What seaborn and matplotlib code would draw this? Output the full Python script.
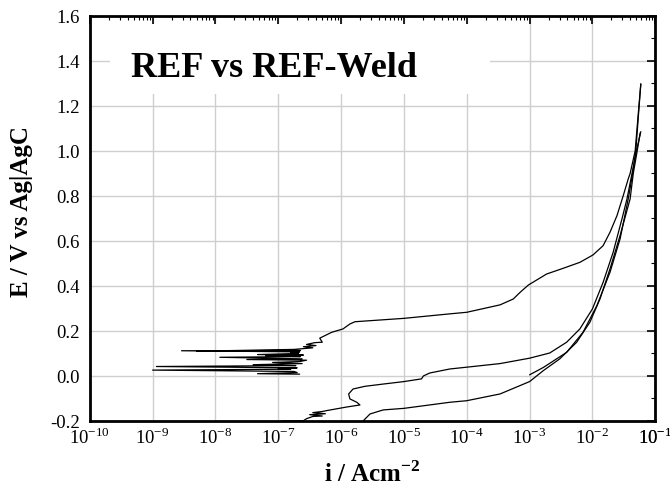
import numpy as np
import pandas as pd
import seaborn as sns
import matplotlib.pyplot as plt
from matplotlib.ticker import MultipleLocator, LogLocator, FixedLocator, FixedFormatter, NullFormatter
from matplotlib.patches import Rectangle

# log10(i / A cm^-2) and E (V vs Ag|AgCl)
# upper curve, forward scan (noisy start, passive plateau ~0.25 V, up to vertex)
a_fwd_logi = [-6.66, -7.33, -6.70, -6.75, -9.00, -6.80, -7.00, -6.70, -8.94, -6.72,
              -7.40, -6.62, -7.09, -6.66, -6.55, -7.50, -6.62, -7.93, -6.65, -7.20,
              -6.60, -7.33, -6.68, -6.80, -6.66, -8.54, -6.65, -8.30, -6.75, -6.45, -6.60,
              -6.40, -6.55, -6.42, -6.30, -6.34, -6.15, -5.97, -5.86, -5.78, -5.00,
              -4.27, -4.00, -3.47, -3.26, -3.15, -3.02, -2.73, -2.46, -2.20, -1.99,
              -1.83, -1.72, -1.61, -1.51, -1.43, -1.40, -1.32, -1.29, -1.26, -1.23]
a_fwd_E = [0.008, 0.010, 0.015, 0.020, 0.026, 0.030, 0.033, 0.036, 0.042, 0.046,
           0.050, 0.055, 0.060, 0.064, 0.070, 0.073, 0.076, 0.083, 0.086, 0.090,
           0.093, 0.095, 0.100, 0.104, 0.107, 0.112, 0.113, 0.110, 0.118, 0.125, 0.130,
           0.135, 0.140, 0.148, 0.150, 0.168, 0.194, 0.209, 0.231, 0.241, 0.256,
           0.276, 0.283, 0.316, 0.342, 0.372, 0.404, 0.453, 0.479, 0.505, 0.538,
           0.579, 0.639, 0.712, 0.801, 0.876, 0.900, 1.000, 1.100, 1.200, 1.298]

# upper curve, reverse scan
a_rev_logi = [-1.23, -1.27, -1.31, -1.36, -1.43, -1.56, -1.72, -1.93, -2.15, -2.41, -2.78, -3.00]
a_rev_E = [1.298, 1.150, 1.000, 0.900, 0.787, 0.609, 0.461, 0.312, 0.194, 0.105, 0.038, 0.005]

# lower curve, forward scan
b_fwd_logi = [-6.95, -6.60, -6.55, -6.45, -6.30, -6.50, -6.25, -6.45, -6.30, -6.23,
              -5.91, -5.70, -5.75, -5.86, -5.88, -5.81, -5.62, -5.33, -5.00, -4.72,
              -4.69, -4.59, -4.27, -4.00, -3.47, -3.00, -2.68, -2.41, -2.20, -2.00,
              -1.83, -1.67, -1.53, -1.45, -1.37, -1.30, -1.23]
b_fwd_E = [-0.200, -0.199, -0.190, -0.180, -0.178, -0.172, -0.168, -0.163, -0.158, -0.154,
           -0.138, -0.129, -0.117, -0.102, -0.080, -0.058, -0.046, -0.036, -0.025, -0.013,
           0.000, 0.013, 0.031, 0.039, 0.055, 0.079, 0.102, 0.150, 0.209, 0.298,
           0.416, 0.550, 0.698, 0.787, 0.900, 1.000, 1.086]

# lower curve, reverse scan
b_rev_logi = [-1.24, -1.30, -1.35, -1.40, -1.56, -1.72, -1.88, -2.04, -2.25, -2.52,
              -2.78, -3.00, -3.47, -4.00, -4.27, -5.00, -5.33, -5.54, -5.65]
b_rev_E = [1.080, 0.980, 0.900, 0.787, 0.624, 0.476, 0.342, 0.239, 0.150, 0.076,
           0.024, -0.025, -0.080, -0.110, -0.117, -0.144, -0.151, -0.169, -0.200]

decades = list(range(-10, 0))

sns.set_style("white")
plt.rcParams['font.family'] = ['Liberation Serif', 'DejaVu Serif']
plt.rcParams['mathtext.fontset'] = 'custom'
plt.rcParams['mathtext.rm'] = 'Liberation Serif'
plt.rcParams['mathtext.bf'] = 'Liberation Serif:bold'
plt.rcParams['axes.unicode_minus'] = False
for k in ['text.color', 'axes.labelcolor', 'xtick.color', 'ytick.color']:
    plt.rcParams[k] = 'black'

fig = plt.figure(figsize=(6.7, 4.85), dpi=100)
ax = fig.add_axes([0.134, 0.130, 0.844, 0.835])

for logi, E in [(a_fwd_logi, a_fwd_E), (a_rev_logi, a_rev_E),
                (b_fwd_logi, b_fwd_E), (b_rev_logi, b_rev_E)]:
    df = pd.DataFrame({'i': np.power(10.0, logi), 'E': E})
    sns.lineplot(data=df, x='i', y='E', sort=False, estimator=None,
                 color='black', lw=0.9, ax=ax, zorder=3)

ax.set_xscale('log')
ax.set_xlim(1e-10, 1e-1)
ax.set_ylim(-0.2, 1.6)

ax.xaxis.set_major_locator(FixedLocator([10.0 ** d for d in decades] + [0.1]))
ax.xaxis.set_major_formatter(FixedFormatter(['$10^{%d}$' % d for d in decades + [-1]]))
ax.xaxis.set_minor_locator(LogLocator(base=10, subs=np.arange(2, 10), numticks=20))
ax.xaxis.set_minor_formatter(NullFormatter())
ax.yaxis.set_major_locator(MultipleLocator(0.2))
ax.yaxis.set_minor_locator(MultipleLocator(0.1))
ax.yaxis.set_major_formatter(plt.FuncFormatter(lambda v, p: '%.1f' % v))

ax.tick_params(which='both', direction='in', top=True, right=True, color='black')
ax.tick_params(which='major', length=6, width=1.2, labelsize=13.5)
ax.tick_params(which='minor', length=3, width=0.8)
ax.tick_params(axis='y', pad=7)
ax.tick_params(axis='x', pad=4)

ax.grid(True, which='major', color='#cfcfcf', lw=1.0)
ax.set_axisbelow(True)
for s in ax.spines.values():
    s.set_linewidth(2)
    s.set_color('black')

# white box behind the title hides the grid
ax.add_patch(Rectangle((10 ** -9.68, 1.253), 10 ** -3.63 - 10 ** -9.68, 0.31,
                       facecolor='white', edgecolor='none', zorder=1.5))
ax.text(10 ** -9.35, 1.37, 'REF vs REF-Weld', fontsize=26, fontweight='bold',
        va='center', ha='left', zorder=4)

ax.set_xlabel(r'i / Acm$^{\mathbf{-2}}$', fontsize=18, fontweight='bold', labelpad=9)
ax.set_ylabel('E / V vs Ag|AgC', fontsize=18, fontweight='bold')
ax.yaxis.set_label_coords(-0.101, 0.52)

fig.savefig('out.png', dpi=100, facecolor='white')
